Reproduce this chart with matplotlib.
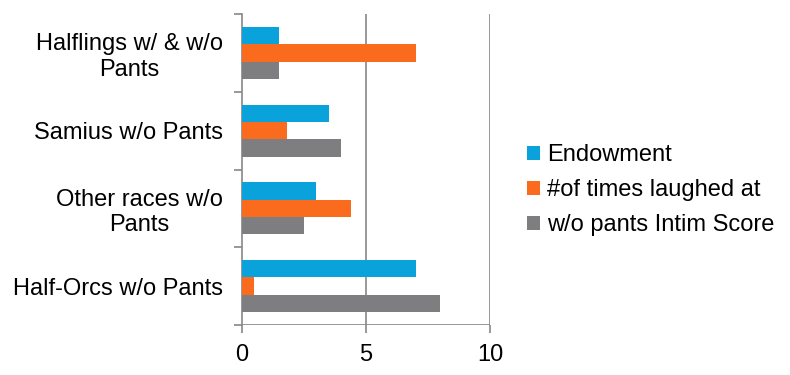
import numpy as np
import matplotlib
matplotlib.use("Agg")
import matplotlib.pyplot as plt

plt.rcParams['font.family'] = ['Liberation Sans', 'DejaVu Sans']

# --- data (bottom to top) ---
categories = ["Half-Orcs w/o Pants", "Other races w/o\nPants",
              "Samius w/o Pants", "Halflings w/ & w/o\nPants"]
endowment = [7, 3, 3.5, 1.5]
laughed_at = [0.5, 4.4, 1.8, 7]
intim_score = [8, 2.5, 4, 1.5]

series_names = ["Endowment", "#of times laughed at", "w/o pants Intim Score"]
colors = ["#09A2DB", "#FA6B1D", "#7E7E81"]
x_ticks = [0, 5, 10]

fig = plt.figure(figsize=(7.9, 3.75), dpi=100)
ax = fig.add_axes([242/790, 50/375, 248/790, 311/375])

y = np.arange(len(categories))
h = 0.222
ax.barh(y + h, endowment, height=h, color=colors[0], label=series_names[0], zorder=3)
ax.barh(y, laughed_at, height=h, color=colors[1], label=series_names[1], zorder=3)
ax.barh(y - h, intim_score, height=h, color=colors[2], label=series_names[2], zorder=3)

ax.set_xlim(0, 10)
ax.set_ylim(-0.5, len(categories) - 0.5)

grid_c = "#888888"
for s in ["top", "right", "bottom"]:
    ax.spines[s].set_visible(False)
ax.spines["left"].set_color(grid_c)
ax.spines["left"].set_linewidth(1.2)
ax.axhline(-0.5, color=grid_c, lw=1.2, zorder=2)
for v in x_ticks[1:]:
    ax.axvline(v, color=grid_c, lw=1.2, zorder=1)

ax.set_xticks(x_ticks)
ax.set_xticklabels([str(v) for v in x_ticks], fontsize=17)
ax.tick_params(axis="x", direction="out", length=6, width=1.2, color=grid_c, pad=8)

ax.set_yticks(np.arange(-0.5, len(categories), 1.0))
ax.set_yticklabels([])
ax.tick_params(axis="y", which="major", direction="out", length=6, width=1.2, color=grid_c)
ax.set_yticks(y, minor=True)
ax.set_yticklabels(categories, minor=True, fontsize=17)
ax.tick_params(axis="y", which="minor", length=0, pad=14)
for lab in ax.get_yticklabels(minor=True):
    lab.set_multialignment("center")

ax.legend(loc="center left", bbox_to_anchor=(515/790, 1 - 190/375),
          bbox_transform=fig.transFigure, frameon=False, fontsize=17,
          handlelength=0.55, handleheight=0.55, handletextpad=0.3,
          labelspacing=0.55, borderpad=0)

fig.savefig("out.png", dpi=100, facecolor="white")
